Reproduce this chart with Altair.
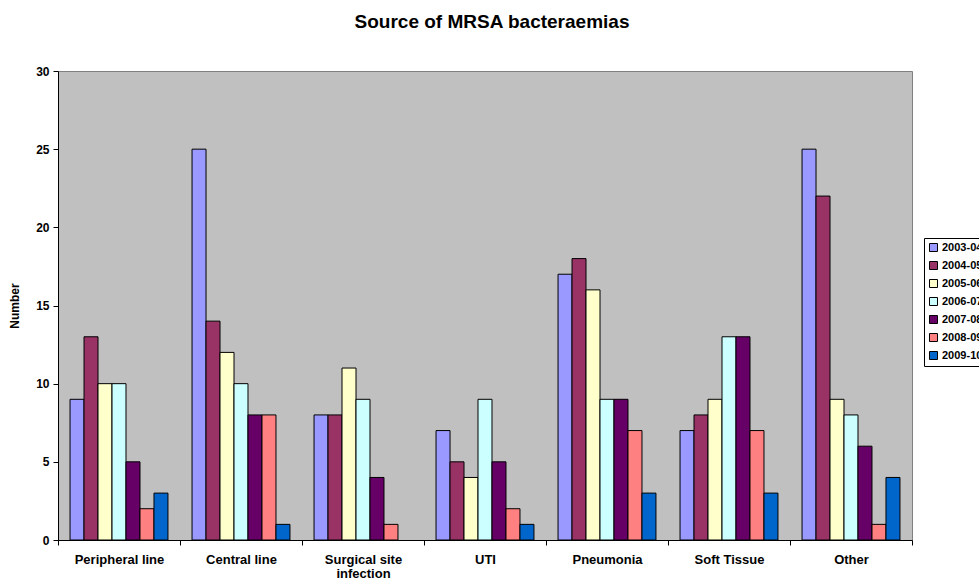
import altair as alt
import pandas as pd

categories = ["Peripheral line", "Central line", "Surgical site infection",
              "UTI", "Pneumonia", "Soft Tissue", "Other"]
years = ["2003-04", "2004-05", "2005-06", "2006-07", "2007-08", "2008-09", "2009-10"]
colors = ["#9999FF", "#993366", "#FFFFCC", "#CCFFFF", "#660066", "#FF8080", "#0066CC"]

counts = {
    "Peripheral line":         [9, 13, 10, 10, 5, 2, 3],
    "Central line":            [25, 14, 12, 10, 8, 8, 1],
    "Surgical site infection": [8, 8, 11, 9, 4, 1, 0],
    "UTI":                     [7, 5, 4, 9, 5, 2, 1],
    "Pneumonia":               [17, 18, 16, 9, 9, 7, 3],
    "Soft Tissue":             [7, 8, 9, 13, 13, 7, 3],
    "Other":                   [25, 22, 9, 8, 6, 1, 4],
}

rows = [
    {"Source": c, "Year": y, "Number": v}
    for c in categories
    for y, v in zip(years, counts[c])
]
df = pd.DataFrame(rows)

FONT = "Liberation Sans"

bars = alt.Chart(df).mark_bar(stroke="black", strokeWidth=1).encode(
    x=alt.X(
        "Source:N",
        sort=categories,
        scale=alt.Scale(paddingInner=0, paddingOuter=0),
        axis=alt.Axis(
            title=None,
            labelAngle=0,
            labelFont=FONT,
            labelFontWeight="bold",
            labelFontSize=13,
            labelColor="black",
            labelPadding=8,
            labelLineHeight=14,
            labelExpr="datum.value == 'Surgical site infection' ? ['Surgical site', 'infection'] : datum.value",
            tickBand="extent",
            tickSize=5,
            tickColor="black",
            domainColor="black",
        ),
    ),
    xOffset=alt.XOffset(
        "Year:N",
        sort=years,
        scale=alt.Scale(paddingInner=0, paddingOuter=0.86),
    ),
    y=alt.Y(
        "Number:Q",
        scale=alt.Scale(domain=[0, 30]),
        axis=alt.Axis(
            title="Number",
            titleFont=FONT,
            titleFontWeight="bold",
            titleFontSize=12,
            titleColor="black",
            titlePadding=14,
            values=[0, 5, 10, 15, 20, 25, 30],
            labelFont=FONT,
            labelFontWeight="bold",
            labelFontSize=12,
            labelColor="black",
            labelPadding=4,
            tickSize=5,
            tickColor="black",
            domainColor="black",
            grid=False,
        ),
    ),
    color=alt.Color(
        "Year:N",
        sort=years,
        scale=alt.Scale(domain=years, range=colors),
        legend=alt.Legend(
            title=None,
            orient="none",
            legendX=866,
            legendY=167,
            symbolType="square",
            symbolSize=64,
            symbolStrokeColor="black",
            symbolStrokeWidth=1,
            labelFont=FONT,
            labelFontWeight="bold",
            labelFontSize=11,
            labelColor="black",
            labelOffset=3,
            rowPadding=5,
            strokeColor="black",
            fillColor="white",
            padding=4,
        ),
    ),
    # a zero count draws no outline on the baseline
    strokeOpacity=alt.condition("datum.Number > 0", alt.value(1), alt.value(0)),
)

chart = bars.properties(
    width=854,
    height=469,
    title=alt.TitleParams(
        "Source of MRSA bacteraemias",
        font=FONT,
        fontSize=19,
        fontWeight="bold",
        color="black",
        anchor="middle",
        offset=33,
        dx=7,
    ),
    autosize=alt.AutoSizeParams(type="none"),
    padding={"left": 58, "top": 71, "right": 67, "bottom": 44},
).configure(
    background="white",
).configure_view(
    fill="#C0C0C0",
    stroke="#808080",
    strokeWidth=1,
)

chart.save("out.html", embed_options={"renderer": "svg", "actions": False})
